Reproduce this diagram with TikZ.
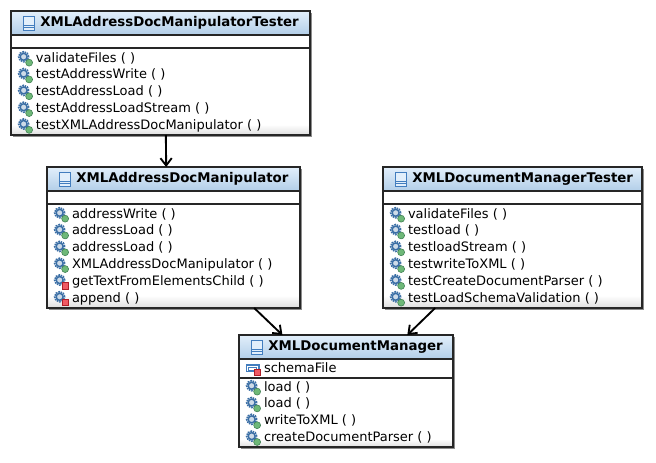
\documentclass[tikz,border=0pt]{standalone}
\usepackage{fontspec}
\setmainfont{DejaVu Sans}
\usetikzlibrary{positioning}
\usetikzlibrary{shadows}
\usetikzlibrary{arrows.meta}
\definecolor{headtop}{RGB}{226, 239, 251}
\definecolor{headbot}{RGB}{178, 206, 232}
\definecolor{gearblue}{RGB}{58, 110, 165}
\definecolor{iconblue}{RGB}{66, 125, 190}
\definecolor{pubgreen}{RGB}{110, 184, 120}
\definecolor{pubedge}{RGB}{60, 125, 80}
\definecolor{privred}{RGB}{240, 90, 100}
\definecolor{privedge}{RGB}{175, 30, 40}
\pgfdeclareverticalshading{memberfade}{100bp}{color(0bp)=(black!13); color(25bp)=(black!13); color(31bp)=(white); color(100bp)=(white)}
\newcommand{\gearglyph}{
    \draw[gearblue, line width=1.1pt, fill=gearblue!25!white] ([xshift=9.5pt, yshift=.9pt]path picture bounding box.west) circle (2.6pt);
    \draw[gearblue, line width=1.2pt, dash pattern=on 1.2pt off .7pt] ([xshift=9.5pt, yshift=.9pt]path picture bounding box.west) circle (3.8pt);
}
\newcommand{\pubbadge}{
    \filldraw[fill=pubgreen, draw=pubedge, line width=.4pt] ([xshift=13.6pt, yshift=-3.5pt]path picture bounding box.west) circle (2.6pt);
}
\newcommand{\privbadge}{
    \filldraw[fill=privred, draw=privedge, line width=.5pt] ([xshift=11.3pt, yshift=-5.8pt]path picture bounding box.west) rectangle ++(5pt, 5pt);
}
\begin{document}
\begin{tikzpicture}[
            x=0.75pt,
            y=-0.75pt,
            compartment/.style={
                rectangle,
                draw=black!85,
                line width=1.3pt,
                inner sep=0pt,
                outer sep=0pt,
                drop shadow={shadow xshift=1.4pt, shadow yshift=-1.4pt, opacity=0.45, fill=black}
            },
            classhead/.style={
                compartment,
                top color=headtop,
                bottom color=headbot,
                minimum height=18pt,
                minimum width=#1
            },
            classfields/.style={compartment, fill=white, minimum width=#1},
            classmethods/.style={compartment, shading=memberfade, minimum width=#1},
            classicon/.style={
                rectangle,
                draw=iconblue,
                fill=headtop,
                line width=.6pt,
                inner sep=0pt,
                minimum width=8.6pt,
                minimum height=10.6pt,
                path picture={
                    \draw[iconblue, line width=.5pt] ([yshift=-1.6pt]path picture bounding box.west) -- ([yshift=-1.6pt]path picture bounding box.east);
                    \draw[iconblue, line width=.5pt] ([yshift=-3.4pt]path picture bounding box.west) -- ([yshift=-3.4pt]path picture bounding box.east);
                }
            },
            classtitle/.style={font=\fontsize{10pt}{12pt}\selectfont\bfseries, inner sep=0pt},
            member/.style={
                rectangle,
                anchor=north west,
                font=\fontsize{9.75pt}{11pt}\selectfont,
                inner xsep=18.75pt,
                inner ysep=0pt,
                outer sep=0pt,
                text height=8.4pt,
                text depth=2.3pt,
                minimum height=12.6pt
            },
            pubmethod/.style={member, path picture={\gearglyph\pubbadge}},
            privmethod/.style={member, path picture={\gearglyph\privbadge}},
            privfield/.style={
                member,
                path picture={
                    \draw[iconblue, line width=.8pt, fill=white] ([xshift=5.4pt, yshift=-3pt]path picture bounding box.west) rectangle ++(9.6pt, 5.2pt);
                    \draw[iconblue, line width=.8pt, fill=white] ([xshift=6.9pt, yshift=-2pt]path picture bounding box.west) rectangle ++(6.2pt, 2.6pt);
                    \privbadge
                }
            },
            assoc/.style={-{Straight Barb[length=5.5pt, width=8.5pt, line width=1.4pt]}, line width=1.4pt, black}
        ]
            \useasboundingbox (0,0) rectangle (656,463);

            % Tester of the manipulator
            \node[classhead=224.25pt, anchor=north west] (maniptesterhead) at (11,11) {};
            \node[classicon, right=9pt of maniptesterhead.west] (maniptestericon) {};
            \node[classtitle, right=3.6pt of maniptestericon] (maniptestertitle) {XMLAddressDocManipulatorTester};
            \node[classfields=224.25pt, minimum height=9.75pt, below=0pt of maniptesterhead] (maniptesterfields) {};
            \node[classmethods=224.25pt, minimum height=65.25pt, below=0pt of maniptesterfields] (maniptestermethods) {};
            \node[pubmethod] (maniptester1) at ([yshift=-1.2pt]maniptestermethods.north west) {validateFiles ( )};
            \node[pubmethod] (maniptester2) at (maniptester1.south west) {testAddressWrite ( )};
            \node[pubmethod] (maniptester3) at (maniptester2.south west) {testAddressLoad ( )};
            \node[pubmethod] (maniptester4) at (maniptester3.south west) {testAddressLoadStream ( )};
            \node[pubmethod] (maniptester5) at (maniptester4.south west) {testXMLAddressDocManipulator ( )};

            % Manipulator
            \node[classhead=190pt, anchor=north west] (maniphead) at (47,167) {};
            \node[classicon, right=9pt of maniphead.west] (manipicon) {};
            \node[classtitle, right=3.6pt of manipicon] (maniptitle) {XMLAddressDocManipulator};
            \node[classfields=190pt, minimum height=9.75pt, below=0pt of maniphead] (manipfields) {};
            \node[classmethods=190pt, minimum height=78pt, below=0pt of manipfields] (manipmethods) {};
            \node[pubmethod] (manip1) at ([yshift=-1.2pt]manipmethods.north west) {addressWrite ( )};
            \node[pubmethod] (manip2) at (manip1.south west) {addressLoad ( )};
            \node[pubmethod] (manip3) at (manip2.south west) {addressLoad ( )};
            \node[pubmethod] (manip4) at (manip3.south west) {XMLAddressDocManipulator ( )};
            \node[privmethod] (manip5) at (manip4.south west) {getTextFromElementsChild ( )};
            \node[privmethod] (manip6) at (manip5.south west) {append ( )};

            % Tester of the manager
            \node[classhead=194.25pt, anchor=north west] (mgrtesterhead) at (383,167) {};
            \node[classicon, right=9pt of mgrtesterhead.west] (mgrtestericon) {};
            \node[classtitle, right=3.6pt of mgrtestericon] (mgrtestertitle) {XMLDocumentManagerTester};
            \node[classfields=194.25pt, minimum height=9.75pt, below=0pt of mgrtesterhead] (mgrtesterfields) {};
            \node[classmethods=194.25pt, minimum height=78pt, below=0pt of mgrtesterfields] (mgrtestermethods) {};
            \node[pubmethod] (mgrtester1) at ([yshift=-1.2pt]mgrtestermethods.north west) {validateFiles ( )};
            \node[pubmethod] (mgrtester2) at (mgrtester1.south west) {testload ( )};
            \node[pubmethod] (mgrtester3) at (mgrtester2.south west) {testloadStream ( )};
            \node[pubmethod] (mgrtester4) at (mgrtester3.south west) {testwriteToXML ( )};
            \node[pubmethod] (mgrtester5) at (mgrtester4.south west) {testCreateDocumentParser ( )};
            \node[pubmethod] (mgrtester6) at (mgrtester5.south west) {testLoadSchemaValidation ( )};

            % Manager
            \node[classhead=160.5pt, anchor=north west] (mgrhead) at (239,335) {};
            \node[classicon, right=9pt of mgrhead.west] (mgricon) {};
            \node[classtitle, right=3.6pt of mgricon] (mgrtitle) {XMLDocumentManager};
            \node[classfields=160.5pt, minimum height=14.25pt, below=0pt of mgrhead] (mgrfields) {};
            \node[privfield] (mgrfield1) at ([yshift=-.4pt]mgrfields.north west) {schemaFile};
            \node[classmethods=160.5pt, minimum height=52pt, below=0pt of mgrfields] (mgrmethods) {};
            \node[pubmethod] (mgr1) at ([yshift=-.4pt]mgrmethods.north west) {load ( )};
            \node[pubmethod] (mgr2) at (mgr1.south west) {load ( )};
            \node[pubmethod] (mgr3) at (mgr2.south west) {writeToXML ( )};
            \node[pubmethod] (mgr4) at (mgr3.south west) {createDocumentParser ( )};

            % Arrows
            \draw[assoc] ([xshift=4pt]maniptestermethods.south) -- ([xshift=-5.6pt]maniphead.north);
            \draw[assoc] ([xshift=60.4pt]manipmethods.south) -- ([xshift=-47.7pt]mgrhead.north);
            \draw[assoc] ([xshift=-58pt]mgrtestermethods.south) -- ([xshift=46pt]mgrhead.north);
        \end{tikzpicture}
\end{document}
